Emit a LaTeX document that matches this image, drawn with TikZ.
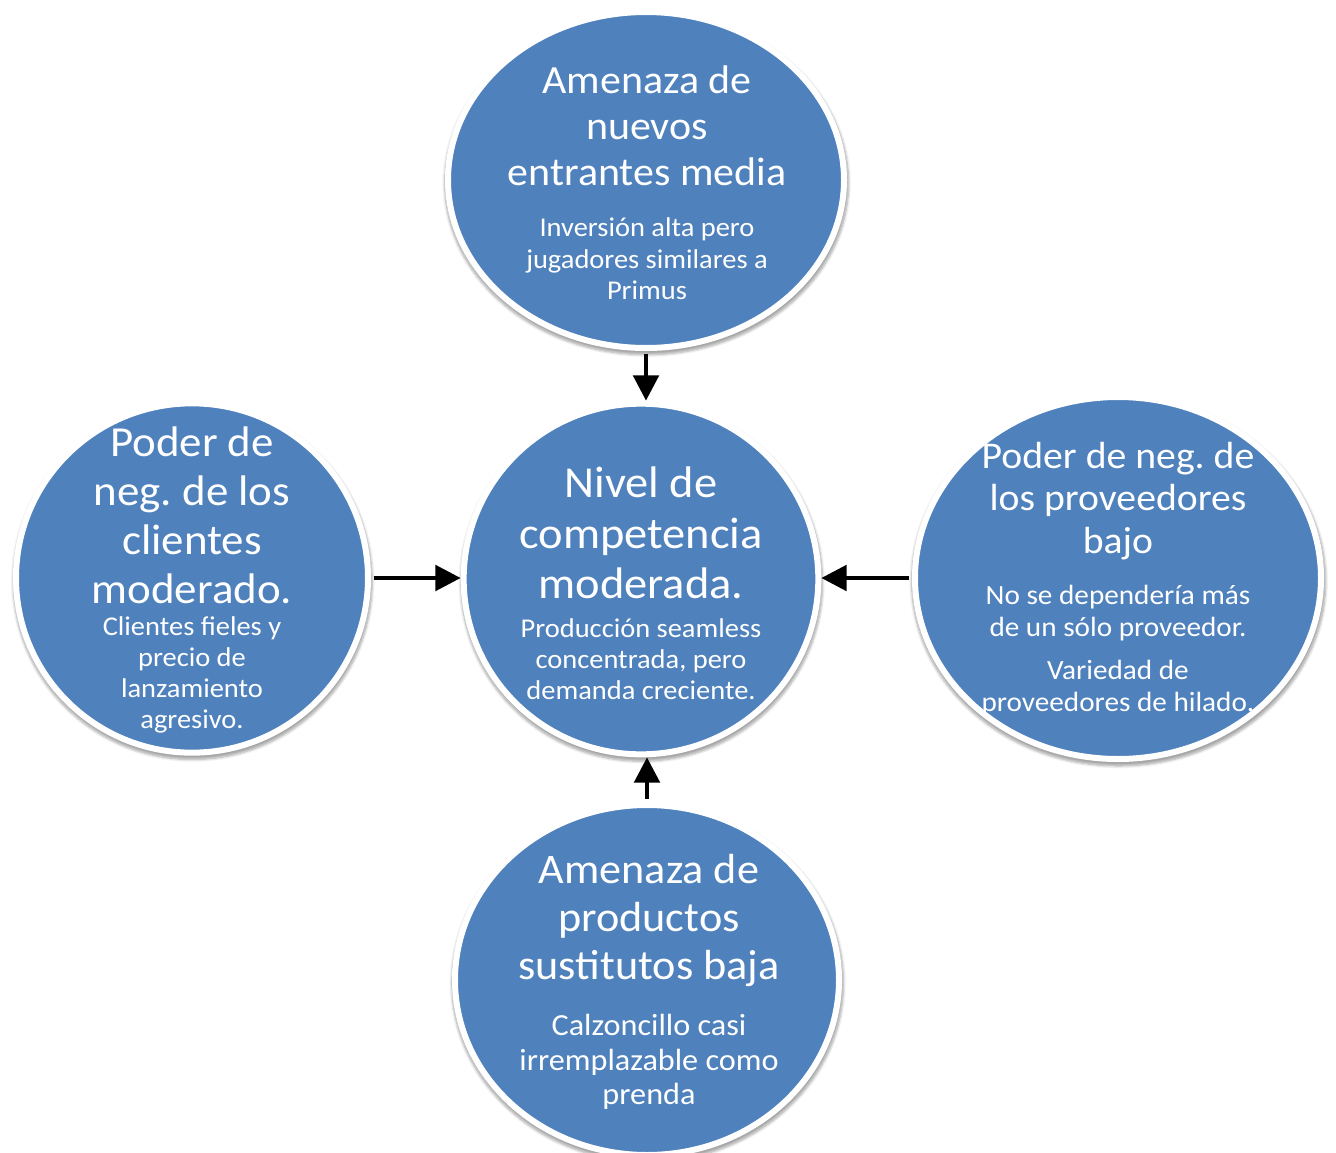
\documentclass[tikz,border=0pt]{standalone}
\usepackage{fontspec}
\setmainfont[FakeStretch=1.05]{Carlito}
\frenchspacing
\usetikzlibrary{shapes.geometric,shadows.blur,arrows.meta}
\definecolor{forceblue}{HTML}{4F81BD}
\tikzset{
  force/.style={ellipse, fill=forceblue, draw=white, line width=4.5pt, inner sep=0pt,
    blur shadow={shadow xshift=0.5pt, shadow yshift=-2.5pt, shadow scale=1.02, shadow opacity=35, shadow blur steps=6}},
  ftext/.style={text=white, align=center, inner sep=0pt},
  conn/.style={line width=3.2pt, shorten <=2.5pt, -{Triangle[length=19pt,width=19pt]}}
}
\newcommand{\fs}[2]{\fontsize{\fpeval{1.07*#1}pt}{#2pt}\selectfont}
\begin{document}
\begin{tikzpicture}[x=0.75pt,y=-0.75pt]
\useasboundingbox (0,0) rectangle (1336,1153);
% ellipses
\node[force, minimum width=297pt, minimum height=252pt] (top) at (646,180) {};
\node[force, minimum width=266pt, minimum height=263pt] (ctr) at (641,579) {};
\node[force, minimum width=264pt, minimum height=262pt] (lft) at (192,578) {};
\node[force, minimum width=304.5pt, minimum height=271.5pt] (rgt) at (1118,578) {};
\node[force, minimum width=288pt, minimum height=262.5pt] (bot) at (647,980) {};
% texts
\node[ftext, font=\fs{28}{34.5}] (topT) at (647,126) {Amenaza de\\nuevos\\entrantes media};
\node[ftext, font=\fs{19}{23.5}] (topS) at (647,259) {Inversión alta pero\\jugadores similares a\\Primus};
\node[ftext, font=\fs{31}{38}] (ctrT) at (641,533) {Nivel de\\competencia\\moderada.};
\node[ftext, font=\fs{19}{23.2}] (ctrS) at (641,659) {Producción seamless\\concentrada, pero\\demanda creciente.};
\node[ftext, font=\fs{30}{36.75}] (lftT) at (192,515) {Poder de\\neg. de los\\clientes\\moderado.};
\node[ftext, font=\fs{19}{23.2}] (lftS) at (192,675) {Clientes fieles y\\precio de\\lanzamiento\\agresivo.};
\node[ftext, font=\fs{26.5}{32}] (rgtT) at (1118,501) {Poder de neg. de\\los proveedores\\bajo};
\node[ftext, font=\fs{19.5}{24}] (rgtS1) at (1118,613) {No se dependería más\\de un sólo proveedor.};
\node[ftext, font=\fs{19.5}{24}] (rgtS2) at (1118,688) {Variedad de\\proveedores de hilado.};
\node[ftext, font=\fs{29.5}{36}] (botT) at (649,920) {Amenaza de\\productos\\sustitutos baja};
\node[ftext, font=\fs{21.5}{26}] (botS) at (649,1062) {Calzoncillo casi\\irremplazable como\\prenda};
% connectors
\draw[conn] (top.south) -- (top.south |- ctr.north);
\draw[conn] (lft.east) -- (lft.east -| ctr.west);
\draw[conn] (rgt.west) -- (rgt.west -| ctr.east);
\draw[conn] (bot.north) -- (bot.north |- ctr.south);
\end{tikzpicture}
\end{document}
